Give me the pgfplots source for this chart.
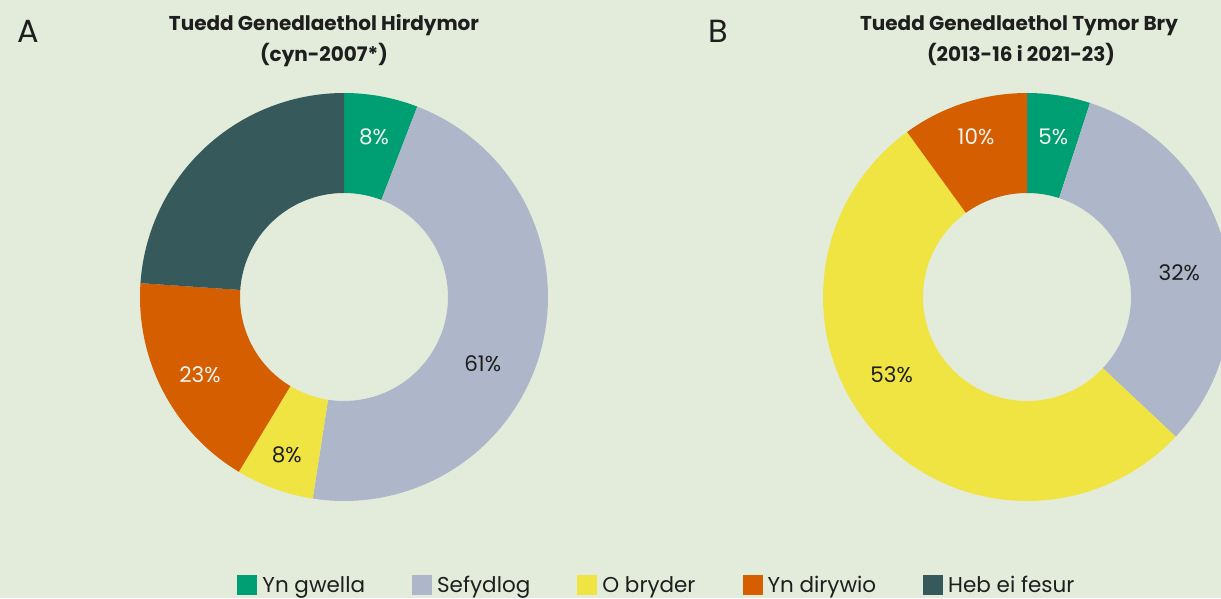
\documentclass[border=0pt]{standalone}
\usepackage{pgfplots}
\pgfplotsset{compat=1.18}
\usepackage{pgfplotstable}
\usepackage{fontspec}
\setmainfont{Poppins}
\definecolor{bg}{HTML}{E3ECDB}
\definecolor{cgreen}{HTML}{009E73}
\definecolor{cgrey}{HTML}{ADB7C9}
\definecolor{cyellow}{HTML}{F0E442}
\definecolor{corange}{HTML}{D55E00}
\definecolor{cdark}{HTML}{365A5C}
\definecolor{lighttxt}{HTML}{F2F2EE}
\definecolor{darktxt}{HTML}{1E1E1E}

% Chart A: share of all indicators (Heb ei fesur = not measured)
\pgfplotstableread{
value color
5.85 cgreen
46.60 cgrey
6.17 cyellow
17.46 corange
23.92 cdark
}\dataA
% Chart B
\pgfplotstableread{
value color
5 cgreen
32 cgrey
53 cyellow
10 corange
}\dataB

\newcommand\drawdonut[3]{%
  \pgfplotstablegetrowsof{#1}%
  \pgfmathtruncatemacro\lastrow{\pgfplotsretval-1}%
  \def\cum{0}%
  \pgfplotsforeachungrouped \i in {0,...,\lastrow}{%
    \pgfplotstablegetelem{\i}{value}\of{#1}\let\val\pgfplotsretval
    \pgfplotstablegetelem{\i}{color}\of{#1}\let\col\pgfplotsretval
    \edef\tmp{\noexpand\addplot[forget plot, draw=none, fill=\col, domain=0:3, samples=301, variable=\noexpand\t]
      ({#2+rr(\noexpand\t)*cos(90-3.6*(\cum+\val*ff(\noexpand\t)))},
       {#3+rr(\noexpand\t)*sin(90-3.6*(\cum+\val*ff(\noexpand\t)))});}%
    \tmp
    \pgfmathsetmacro\cum{\cum+\val}%
  }%
}

\begin{document}
\begin{tikzpicture}
\useasboundingbox (0,0) rectangle (1221pt,598pt);
\fill[bg] (0,0) rectangle (1221pt,598pt);
\begin{axis}[at={(0pt,0pt)}, anchor=south west,
  scale only axis, width=1221pt, height=598pt,
  xmin=0, xmax=1221, ymin=0, ymax=598,
  hide axis, clip=true,
  declare function={rr(\q)=(\q<1) ? 204 : ((\q<2) ? (204-100*(\q-1)) : 104);
                    ff(\q)=(\q<2) ? min(\q,1) : max(3-\q,0);},
  legend columns=5,
  legend image code/.code={\fill[#1] (0pt,-10pt) rectangle (20pt,10pt);},
  legend style={draw=none, fill=none, inner sep=0pt,
    font=\fontsize{21.5}{26}\selectfont, text=darktxt,
    at={(0.1943,0.0217)}, anchor=west,
    /tikz/every odd column/.append style={column sep=3pt},
    /tikz/every even column/.append style={column sep=45pt}},
]
\drawdonut{\dataA}{344}{301}
\drawdonut{\dataB}{1027}{301}

\addlegendimage{draw=none, fill=cgreen}\addlegendentry{Yn gwella}
\addlegendimage{draw=none, fill=cgrey}\addlegendentry{Sefydlog}
\addlegendimage{draw=none, fill=cyellow}\addlegendentry{O bryder}
\addlegendimage{draw=none, fill=corange}\addlegendentry{Yn dirywio}
\addlegendimage{draw=none, fill=cdark}\addlegendentry{Heb ei fesur}

% panel letters and titles
\node[anchor=base, font=\fontsize{32}{36}\selectfont, text=darktxt] at (axis cs:28,555.3) {A};
\node[anchor=base, font=\fontsize{32}{36}\selectfont, text=darktxt] at (axis cs:718,555.3) {B};
\tikzset{ttl/.style={anchor=base, font=\bfseries\fontsize{20}{24}\selectfont, text=darktxt}}
\node[ttl] at (axis cs:324,567.3) {Tuedd Genedlaethol Hirdymor};
\node[ttl] at (axis cs:324,536.3) {(cyn-2007*)};
\node[ttl] at (axis cs:1019,567.3) {Tuedd Genedlaethol Tymor Bry};
\node[ttl] at (axis cs:1021,536.3) {(2013-16 i 2021-23)};

% slice labels
\tikzset{lab/.style={font=\fontsize{21.5}{24}\selectfont, inner sep=0pt, anchor=center}}
\node[lab, text=lighttxt] at (axis cs:374,460.7) {8\%};
\node[lab, text=darktxt] at (axis cs:482.7,234.7) {61\%};
\node[lab, text=darktxt] at (axis cs:286.7,143) {8\%};
\node[lab, text=lighttxt] at (axis cs:200,223) {23\%};
\node[lab, text=lighttxt] at (axis cs:1053.3,460.7) {5\%};
\node[lab, text=darktxt] at (axis cs:1179.3,325.3) {32\%};
\node[lab, text=darktxt] at (axis cs:891.7,223) {53\%};
\node[lab, text=lighttxt] at (axis cs:976,461.3) {10\%};
\end{axis}
\end{tikzpicture}
\end{document}
